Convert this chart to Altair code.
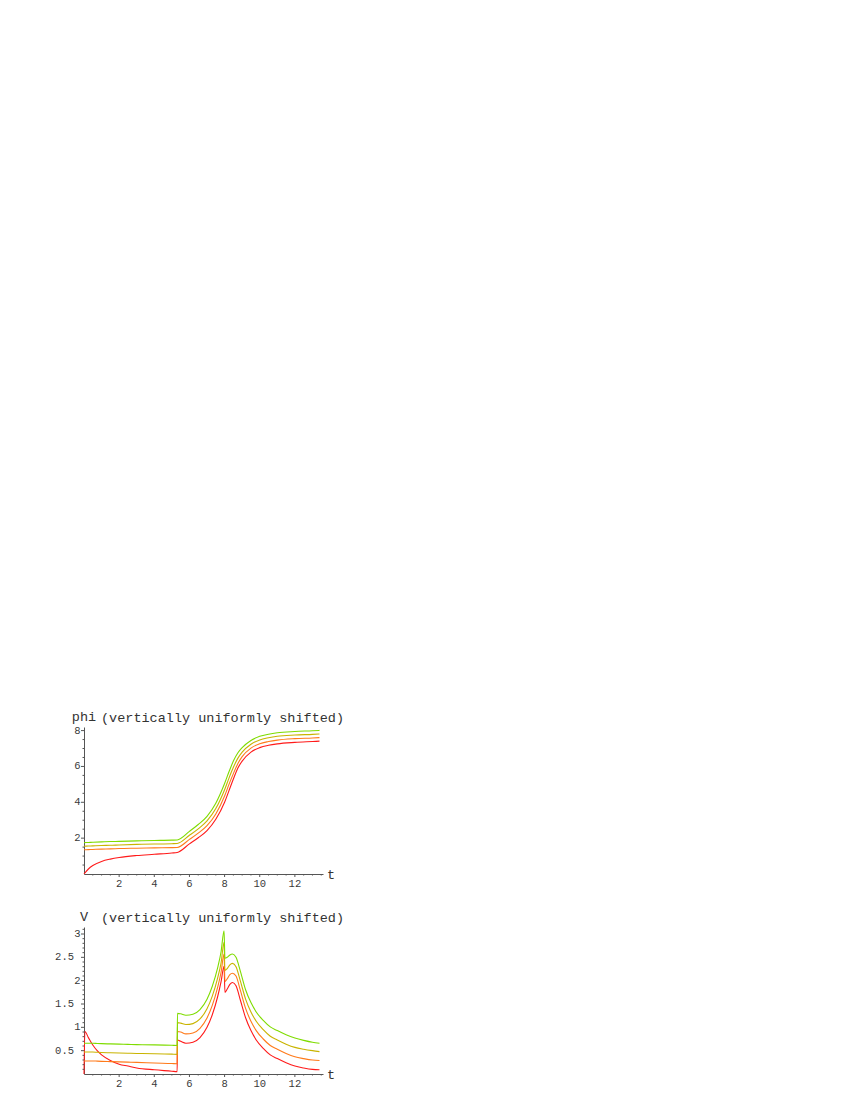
import altair as alt
import pandas as pd

# ---------------- data: upper panel (phi) ----------------
t_phi = [0, 0.25, 0.5, 1, 1.5, 2, 3, 4, 5, 5.3, 6, 6.5, 7, 7.5, 8, 8.25, 8.5,
         8.75, 9, 9.5, 10, 10.5, 11, 12, 13, 13.4]
phi_red = [0, 0.28, 0.47, 0.7, 0.83, 0.92, 1.03, 1.1, 1.17, 1.2, 1.68, 2.02,
           2.42, 3.05, 4.0, 4.65, 5.3, 5.9, 6.3, 6.8, 7.05, 7.18, 7.26, 7.34,
           7.39, 7.41]
phi_orange = [1.35, 1.36, 1.37, 1.39, 1.4, 1.42, 1.44, 1.46, 1.47, 1.48, 1.93,
              2.28, 2.7, 3.35, 4.35, 5.0, 5.6, 6.15, 6.55, 7.02, 7.27, 7.39,
              7.47, 7.55, 7.59, 7.61]
phi_olive = [1.55, 1.56, 1.57, 1.59, 1.6, 1.62, 1.65, 1.67, 1.69, 1.7, 2.16,
             2.52, 2.96, 3.65, 4.7, 5.35, 5.95, 6.45, 6.8, 7.24, 7.48, 7.6,
             7.68, 7.75, 7.79, 7.81]
phi_green = [1.75, 1.76, 1.77, 1.79, 1.81, 1.82, 1.85, 1.87, 1.89, 1.9, 2.38,
             2.76, 3.22, 3.95, 5.05, 5.7, 6.3, 6.75, 7.05, 7.45, 7.68, 7.8,
             7.88, 7.95, 7.99, 8.01]

# ---------------- data: lower panel (V) ----------------
t_v = [0, 0.05, 0.25, 0.5, 0.75, 1, 1.5, 2, 2.5, 3, 4, 5, 5.3, 5.32, 5.5, 5.8,
       6.2, 6.6, 7.0, 7.3, 7.6, 7.8, 7.97, 8.02, 8.15, 8.3, 8.45, 8.65, 8.9,
       9.2, 9.5, 9.8, 10.2, 10.6, 11, 11.5, 12, 12.5, 13, 13.4]
v_red = [0, 0.91, 0.78, 0.62, 0.5, 0.41, 0.29, 0.21, 0.17, 0.13, 0.09, 0.06,
         0.05, 0.73, 0.7, 0.66, 0.68, 0.78, 1.0, 1.27, 1.65, 1.98, 2.31, 1.75,
         1.82, 1.92, 1.96, 1.89, 1.58, 1.2, 0.93, 0.73, 0.55, 0.41, 0.33, 0.24,
         0.17, 0.13, 0.1, 0.09]
v_orange = [0.28, 0.28, 0.28, 0.28, 0.275, 0.27, 0.265, 0.26, 0.255, 0.25,
            0.235, 0.225, 0.22, 0.91, 0.9, 0.86, 0.88, 0.98, 1.2, 1.47, 1.85,
            2.18, 2.57, 1.98, 2.04, 2.13, 2.16, 2.1, 1.79, 1.4, 1.13, 0.93,
            0.75, 0.61, 0.53, 0.44, 0.37, 0.33, 0.3, 0.29]
v_olive = [0.47, 0.47, 0.47, 0.47, 0.465, 0.46, 0.455, 0.45, 0.445, 0.44,
           0.435, 0.425, 0.42, 1.1, 1.09, 1.06, 1.08, 1.18, 1.4, 1.67, 2.05,
           2.38, 2.82, 2.22, 2.26, 2.34, 2.37, 2.3, 1.99, 1.6, 1.33, 1.13,
           0.95, 0.81, 0.73, 0.64, 0.57, 0.53, 0.5, 0.48]
v_green = [0.66, 0.66, 0.66, 0.66, 0.655, 0.65, 0.645, 0.64, 0.635, 0.63,
           0.625, 0.615, 0.61, 1.3, 1.29, 1.26, 1.28, 1.38, 1.6, 1.88, 2.27,
           2.62, 3.07, 2.48, 2.5, 2.55, 2.57, 2.5, 2.2, 1.8, 1.53, 1.33, 1.15,
           1.01, 0.93, 0.84, 0.77, 0.72, 0.68, 0.66]

series_names = ["red", "orange", "olive", "green"]
series_colors = ["#ff1a1a", "#ff7a1a", "#c9b400", "#7fdc00"]

# ---------------- axis ticks and tick labels ----------------
x_major = [2, 4, 6, 8, 10, 12]
x_labels = ["2", "4", "6", "8", "10", "12"]
x_minor = [0.5, 1, 1.5, 2.5, 3, 3.5, 4.5, 5, 5.5, 6.5, 7, 7.5, 8.5, 9, 9.5,
           10.5, 11, 11.5, 12.5, 13, 13.5]
phi_major = [2, 4, 6, 8]
phi_labels = ["2", "4", "6", "8"]
phi_minor = [0.5, 1, 1.5, 2.5, 3, 3.5, 4.5, 5, 5.5, 6.5, 7, 7.5]
v_major = [0.5, 1, 1.5, 2, 2.5, 3]
v_labels = ["0.5", "1", "1.5", "2", "2.5", "3"]
v_minor = [0.1, 0.2, 0.3, 0.4, 0.6, 0.7, 0.8, 0.9, 1.1, 1.2, 1.3, 1.4, 1.6,
           1.7, 1.8, 1.9, 2.1, 2.2, 2.3, 2.4, 2.6, 2.7, 2.8, 2.9, 3.1]

W, H = 239, 147
X_MAX = 13.6
MONO = "Liberation Mono"
AXIS_COLOR = "#555555"
LABEL_COLOR = "#3a3a3a"
TEXT_COLOR = "#333333"
LABEL_SIZE = 10.5


def long_table(t, cols):
    rows = []
    for name, vals in zip(series_names, cols):
        for tt, vv in zip(t, vals):
            rows.append({"t": tt, "v": vv, "s": name})
    return pd.DataFrame(rows)


def panel(df, y_max, y_major, y_labels, y_minor, y_label):
    xs = alt.Scale(domain=[0, X_MAX], nice=False, zero=False)
    ys = alt.Scale(domain=[0, y_max], nice=False, zero=False)
    dom_axis = dict(labels=False, ticks=False, grid=False,
                    domainColor=AXIS_COLOR, domainWidth=1)
    lines = alt.Chart(df).mark_line(strokeWidth=1.1, interpolate="monotone").encode(
        x=alt.X("t:Q", scale=xs, title=None, axis=alt.Axis(**dom_axis)),
        y=alt.Y("v:Q", scale=ys, title=None, axis=alt.Axis(**dom_axis)),
        color=alt.Color("s:N", scale=alt.Scale(domain=series_names,
                                               range=series_colors),
                        legend=None),
        order=alt.Order("t:Q"),
    )
    # ticks
    xmaj = alt.Chart(pd.DataFrame({"t": x_major, "lab": x_labels}))
    xmajor_ticks = xmaj.mark_rule(color=AXIS_COLOR, strokeWidth=1).encode(
        x="t:Q", y=alt.value(H), y2=alt.value(H + 3))
    xmajor_text = xmaj.mark_text(font=MONO, fontSize=LABEL_SIZE,
                                 color=LABEL_COLOR, align="center",
                                 baseline="top").encode(
        x="t:Q", y=alt.value(H + 5), text="lab:N")
    xminor_ticks = alt.Chart(pd.DataFrame({"t": x_minor})).mark_rule(
        color=AXIS_COLOR, strokeWidth=1).encode(
        x="t:Q", y=alt.value(H), y2=alt.value(H + 1.5))
    ymaj = alt.Chart(pd.DataFrame({"v": y_major, "lab": y_labels}))
    ymajor_ticks = ymaj.mark_rule(color=AXIS_COLOR, strokeWidth=1).encode(
        y="v:Q", x=alt.value(0), x2=alt.value(-3))
    ytext_int = ymaj.transform_filter(
        "indexof(datum.lab, '.') < 0").mark_text(
        font=MONO, fontSize=LABEL_SIZE, color=LABEL_COLOR, align="right",
        baseline="middle").encode(y="v:Q", x=alt.value(-3.5), text="lab:N")
    ytext_dec = ymaj.transform_filter(
        "indexof(datum.lab, '.') >= 0").mark_text(
        font=MONO, fontSize=LABEL_SIZE, color=LABEL_COLOR, align="right",
        baseline="middle").encode(y="v:Q", x=alt.value(-10), text="lab:N")
    yminor_ticks = alt.Chart(pd.DataFrame({"v": y_minor})).mark_rule(
        color=AXIS_COLOR, strokeWidth=1).encode(
        y="v:Q", x=alt.value(0), x2=alt.value(-1.5))
    one = pd.DataFrame({"a": [0]})
    ylab = alt.Chart(one).mark_text(font=MONO, fontSize=13.5, color=TEXT_COLOR,
                                    align="center", baseline="alphabetic").encode(
        x=alt.value(0), y=alt.value(-6), text=alt.value(y_label))
    title = alt.Chart(one).mark_text(font=MONO, fontSize=13.5, color=TEXT_COLOR,
                                     align="left", baseline="alphabetic").encode(
        x=alt.value(17), y=alt.value(-5),
        text=alt.value("(vertically uniformly shifted)"))
    tlab = alt.Chart(one).mark_text(font=MONO, fontSize=13.5, color=TEXT_COLOR,
                                    align="left", baseline="alphabetic").encode(
        x=alt.value(W + 4), y=alt.value(H + 5), text=alt.value("t"))
    return alt.layer(lines, xmajor_ticks, xminor_ticks, xmajor_text,
                     ymajor_ticks, yminor_ticks, ytext_int, ytext_dec,
                     ylab, title, tlab).properties(width=W, height=H)


df_phi = long_table(t_phi, [phi_red, phi_orange, phi_olive, phi_green])
df_v = long_table(t_v, [v_red, v_orange, v_olive, v_green])

top = panel(df_phi, 8.2, phi_major, phi_labels, phi_minor, "phi")
bottom = panel(df_v, 3.15, v_major, v_labels, v_minor, "V")

chart = alt.vconcat(top, bottom, spacing=20).properties(
    padding={"left": 47, "top": 702, "right": 5, "bottom": 5},
    background="white",
).configure_view(stroke=None)

chart.save("out.html", embed_options={"renderer": "svg", "actions": False})
